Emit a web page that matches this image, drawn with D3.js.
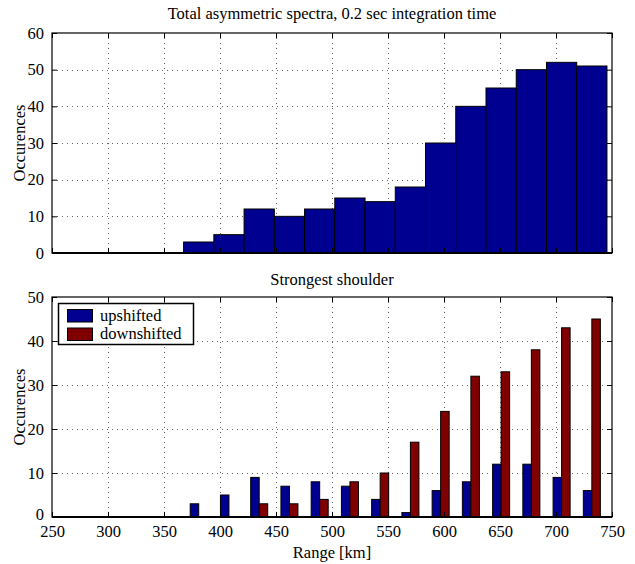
<!DOCTYPE html>
<html><head><meta charset="utf-8">
<script src="https://cdn.jsdelivr.net/npm/d3@7"></script>
<style>
html,body{margin:0;padding:0;background:#fff;}
svg text{font-family:"Liberation Serif","Times New Roman",serif;fill:#000;}
</style></head>
<body><svg id="chart" width="635" height="564"></svg>
<script>
// ---- data ----
const binCenters = [273, 300, 327, 354, 381, 408, 435, 462, 489, 516, 543, 570, 597, 624, 651, 678, 705, 732];
const totalCounts = [0, 0, 0, 0, 3, 5, 12, 10, 12, 15, 14, 18, 30, 40, 45, 50, 52, 51];
const upshifted   = [0, 0, 0, 0, 3, 5, 9, 7, 8, 7, 4, 1, 6, 8, 12, 12, 9, 6];
const downshifted = [0, 0, 0, 0, 0, 0, 3, 3, 4, 8, 10, 17, 24, 32, 33, 38, 43, 45];
const xTicks = [250, 300, 350, 400, 450, 500, 550, 600, 650, 700, 750];
const yTicksTop = [0, 10, 20, 30, 40, 50, 60];
const yTicksBottom = [0, 10, 20, 30, 40, 50];
const seriesNames = ["upshifted", "downshifted"];
const seriesColors = ["#000090", "#800000"];
const binWidth = 27;
const groupBarWidth = 7.6;

const svg = d3.select("#chart");
const L = 52, R = 612;
const top1 = 33, bot1 = 253, top2 = 297, bot2 = 517;
const FS = 16.5;

const x = d3.scaleLinear().domain([250, 750]).range([L, R]);
const y1 = d3.scaleLinear().domain([0, 60]).range([bot1, top1]);
const y2 = d3.scaleLinear().domain([0, 50]).range([bot2, top2]);

function panel(y, yt, t, b) {
  const g = svg.append("g");
  g.selectAll(".gx").data(xTicks.slice(1, -1)).enter().append("line")
    .attr("x1", d => Math.round(x(d)) + 0.5).attr("x2", d => Math.round(x(d)) + 0.5)
    .attr("y1", t).attr("y2", b)
    .attr("stroke", "#666").attr("stroke-width", 1).attr("stroke-dasharray", "1,4");
  g.selectAll(".gy").data(yt.slice(1, -1)).enter().append("line")
    .attr("y1", d => Math.round(y(d)) + 0.5).attr("y2", d => Math.round(y(d)) + 0.5)
    .attr("x1", L).attr("x2", R)
    .attr("stroke", "#666").attr("stroke-width", 1).attr("stroke-dasharray", "1,4");
  return g;
}

function frame(y, yt, t, b, showXLabels) {
  const g = svg.append("g");
  const ax = d3.axisBottom(x).tickValues(xTicks).tickSizeInner(-5).tickSizeOuter(0).tickPadding(10);
  if (!showXLabels) ax.tickFormat("");
  const gb = g.append("g").attr("transform", `translate(0,${b})`).call(ax);
  const gt = g.append("g").attr("transform", `translate(0,${t})`)
    .call(d3.axisTop(x).tickValues(xTicks).tickSizeInner(-5).tickSizeOuter(0).tickFormat(""));
  const gl = g.append("g").attr("transform", `translate(${L},0)`)
    .call(d3.axisLeft(y).tickValues(yt).tickSizeInner(-5).tickSizeOuter(0).tickPadding(8));
  const gr = g.append("g").attr("transform", `translate(${R},0)`)
    .call(d3.axisRight(y).tickValues(yt).tickSizeInner(-5).tickSizeOuter(0).tickFormat(""));
  [gb, gt, gl, gr].forEach(s => {
    s.attr("font-family", null).attr("font-size", null);
    s.select(".domain").remove();
    s.selectAll("line").attr("stroke", "#000");
    s.selectAll("text").attr("font-size", FS);
  });
  gb.selectAll("text").attr("dy", "0.6em");
  if (showXLabels) gl.selectAll(".tick text").filter(d => d === 0).attr("dy", "0.15em");
  g.append("rect").attr("x", L).attr("y", t).attr("width", R - L).attr("height", b - t)
    .attr("fill", "none").attr("stroke", "#000").attr("stroke-width", 1.2);
  return g;
}

// ---- top panel ----
panel(y1, yTicksTop, top1, bot1);
svg.append("g").selectAll("rect").data(binCenters.map((c, i) => ({c, v: totalCounts[i]})))
  .enter().append("rect")
  .attr("x", d => x(Math.max(250, d.c - binWidth / 2)))
  .attr("width", d => x(d.c + binWidth / 2) - x(Math.max(250, d.c - binWidth / 2)))
  .attr("y", d => y1(d.v)).attr("height", d => bot1 - y1(d.v))
  .attr("fill", "#000090").attr("stroke", "#000").attr("stroke-width", 1);
svg.append("line").attr("x1", L).attr("x2", R).attr("y1", bot1).attr("y2", bot1)
  .attr("stroke", "#000").attr("stroke-width", 2);
frame(y1, yTicksTop, top1, bot1, false);

svg.append("text").attr("x", (L + R) / 2).attr("y", 19).attr("text-anchor", "middle")
  .attr("font-size", FS).text("Total asymmetric spectra, 0.2 sec integration time");
svg.append("text").attr("transform", `translate(25,${(top1 + bot1) / 2}) rotate(-90)`)
  .attr("text-anchor", "middle").attr("font-size", FS).text("Occurences");

// ---- bottom panel ----
panel(y2, yTicksBottom, top2, bot2);
const groups = [upshifted, downshifted];
groups.forEach((arr, si) => {
  svg.append("g").selectAll("rect").data(binCenters.map((c, i) => ({c, v: arr[i]})))
    .enter().append("rect")
    .attr("x", d => x(d.c + (si - 1) * groupBarWidth))
    .attr("width", d => x(d.c + si * groupBarWidth) - x(d.c + (si - 1) * groupBarWidth))
    .attr("y", d => y2(d.v)).attr("height", d => bot2 - y2(d.v))
    .attr("fill", seriesColors[si]).attr("stroke", "#000").attr("stroke-width", 1);
});
svg.append("line").attr("x1", L).attr("x2", R).attr("y1", bot2).attr("y2", bot2)
  .attr("stroke", "#000").attr("stroke-width", 2);
frame(y2, yTicksBottom, top2, bot2, true);

svg.append("text").attr("x", (L + R) / 2).attr("y", 285).attr("text-anchor", "middle")
  .attr("font-size", FS).text("Strongest shoulder");
svg.append("text").attr("transform", `translate(25,${(top2 + bot2) / 2}) rotate(-90)`)
  .attr("text-anchor", "middle").attr("font-size", FS).text("Occurences");
svg.append("text").attr("x", (L + R) / 2).attr("y", 558).attr("text-anchor", "middle")
  .attr("font-size", FS).text("Range [km]");

// legend
const lg = svg.append("g");
lg.append("rect").attr("x", 58.5).attr("y", 303.5).attr("width", 135).attr("height", 41)
  .attr("fill", "#fff").attr("stroke", "#000").attr("stroke-width", 1.5);
seriesNames.forEach((n, i) => {
  lg.append("rect").attr("x", 67.5).attr("y", 309.5 + i * 18.5).attr("width", 25).attr("height", 12.5)
    .attr("fill", seriesColors[i]).attr("stroke", "#000").attr("stroke-width", 1);
  lg.append("text").attr("x", 100).attr("y", 320.5 + i * 18.5).attr("font-size", FS).text(n);
});
</script></body></html>
